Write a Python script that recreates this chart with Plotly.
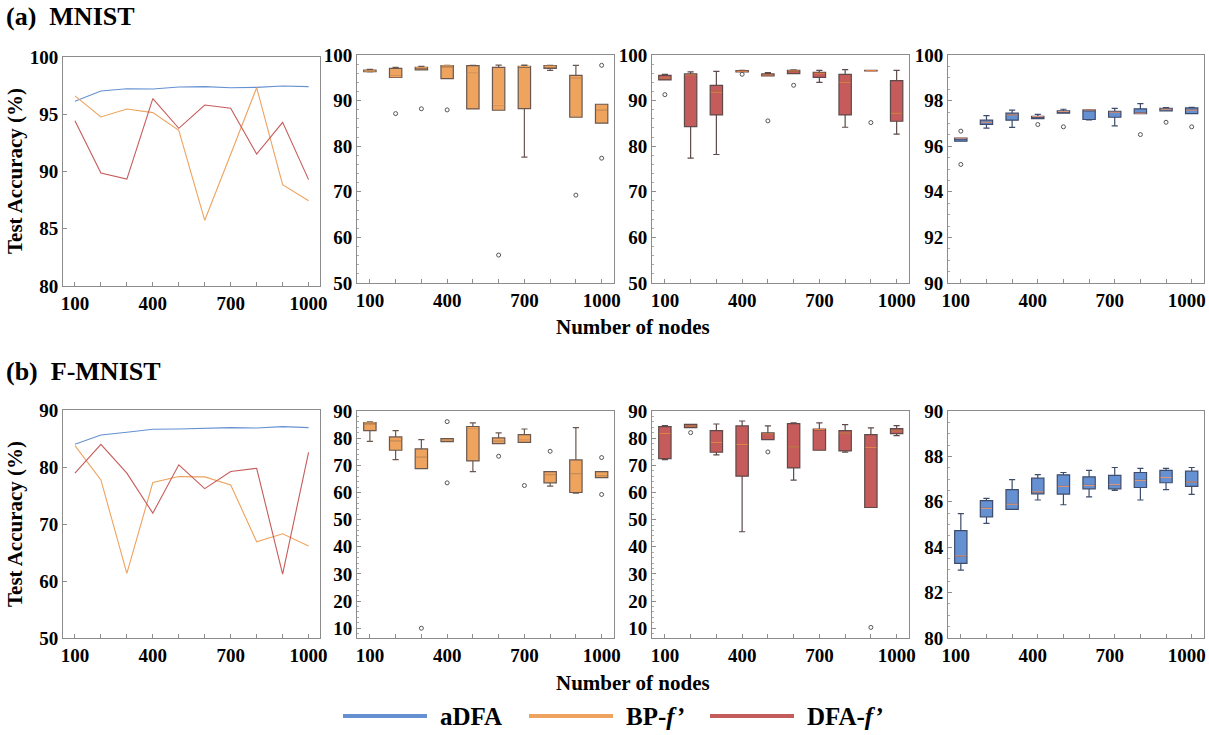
import plotly.graph_objects as go

W, H = 1209, 735

nodes = [100, 200, 300, 400, 500, 600, 700, 800, 900, 1000]
x_tick_vals = [100, 200, 300, 400, 500, 600, 700, 800, 900, 1000]
x_tick_text = ["100", "", "", "400", "", "", "700", "", "", "1000"]

# ---- (a) MNIST: line panel ----
mnist_adfa = [96.13, 97.03, 97.23, 97.20, 97.38, 97.41, 97.32, 97.35, 97.47, 97.41]
mnist_bp = [96.60, 94.76, 95.46, 95.14, 93.60, 85.74, 91.50, 97.32, 88.85, 87.45]
mnist_dfa = [94.44, 89.87, 89.34, 96.36, 93.77, 95.81, 95.52, 91.53, 94.29, 89.29]

# ---- (b) F-MNIST: line panel ----
fm_adfa = [83.99, 85.62, 86.09, 86.61, 86.67, 86.79, 86.90, 86.85, 87.08, 86.90]
fm_bp = [83.75, 77.74, 61.33, 77.27, 78.32, 78.26, 76.86, 66.88, 68.29, 66.13]
fm_dfa = [78.91, 83.99, 78.91, 71.90, 80.38, 76.20, 79.20, 79.78, 61.20, 82.58]

# ---- MNIST box stats: BP-f' ----
mn_bp_lo = [96.30, 95.10, 96.72, 94.82, 88.18, 87.88, 77.60, 96.64, 86.35, 85.04]
mn_bp_q1 = [96.35, 95.10, 96.72, 94.82, 88.18, 87.88, 88.25, 97.08, 86.35, 85.04]
mn_bp_med = [96.50, 95.26, 97.20, 97.60, 95.99, 89.12, 97.45, 97.52, 94.96, 87.96]
mn_bp_q3 = [96.70, 97.08, 97.30, 97.66, 97.66, 97.30, 97.50, 97.66, 95.55, 89.20]
mn_bp_hi = [96.86, 97.30, 97.50, 97.74, 97.74, 97.80, 97.80, 97.74, 97.74, 89.20]
mn_bp_out_x = [200, 300, 400, 600, 900, 1000, 1000]
mn_bp_out_y = [87.15, 88.20, 87.96, 56.13, 69.27, 97.74, 77.37]

# ---- MNIST box stats: DFA-f' ----
mn_dfa_lo = [94.53, 77.37, 78.18, 96.28, 95.40, 95.91, 94.00, 84.16, 96.50, 82.63]
mn_dfa_q1 = [94.53, 84.31, 86.86, 96.28, 95.40, 95.91, 95.10, 86.86, 96.50, 85.47]
mn_dfa_med = [94.96, 95.62, 91.82, 96.42, 95.62, 96.50, 95.99, 94.01, 96.57, 87.23]
mn_dfa_q3 = [95.55, 95.84, 93.36, 96.57, 95.84, 96.64, 96.20, 95.77, 96.64, 94.38]
mn_dfa_hi = [95.77, 96.28, 96.42, 96.64, 96.13, 96.72, 96.64, 96.79, 96.64, 96.64]
mn_dfa_out_x = [100, 400, 500, 600, 900]
mn_dfa_out_y = [91.31, 95.77, 85.55, 93.36, 85.18]

# ---- MNIST box stats: aDFA ----
mn_adfa_lo = [96.22, 96.79, 96.83, 97.21, 97.45, 97.15, 96.89, 97.43, 97.55, 97.43]
mn_adfa_q1 = [96.22, 96.96, 97.14, 97.21, 97.45, 97.17, 97.27, 97.43, 97.55, 97.43]
mn_adfa_med = [96.35, 97.05, 97.37, 97.30, 97.52, 97.59, 97.49, 97.45, 97.62, 97.58]
mn_adfa_q3 = [96.35, 97.14, 97.45, 97.31, 97.55, 97.59, 97.53, 97.64, 97.66, 97.68]
mn_adfa_hi = [96.35, 97.34, 97.58, 97.40, 97.62, 97.60, 97.66, 97.87, 97.69, 97.70]
mn_adfa_out_x = [100, 100, 400, 500, 800, 900, 1000]
mn_adfa_out_y = [96.66, 95.20, 96.95, 96.85, 96.51, 97.05, 96.85]

# ---- F-MNIST box stats: BP-f' ----
fm_bp_lo = [78.85, 72.11, 68.81, 78.73, 67.70, 78.00, 78.48, 62.31, 59.74, 65.50]
fm_bp_q1 = [82.77, 75.54, 68.81, 78.73, 71.62, 78.00, 78.48, 63.54, 59.98, 65.50]
fm_bp_med = [85.60, 78.97, 73.10, 79.34, 83.87, 79.00, 79.22, 66.35, 66.72, 65.99]
fm_bp_q3 = [85.71, 80.44, 76.03, 79.83, 84.24, 80.08, 81.30, 67.70, 72.00, 67.70]
fm_bp_hi = [85.96, 82.77, 79.46, 79.83, 85.59, 81.91, 83.38, 67.70, 83.87, 67.70]
fm_bp_out_x = [300, 400, 400, 600, 700, 800, 1000, 1000]
fm_bp_out_y = [10.0, 86.08, 63.54, 73.34, 62.56, 75.18, 72.85, 59.25]

# ---- F-MNIST box stats: DFA-f' ----
fm_dfa_lo = [72.10, 83.87, 73.83, 45.53, 79.46, 64.52, 75.54, 74.81, 54.47, 80.93]
fm_dfa_q1 = [72.48, 83.87, 74.81, 65.99, 79.46, 69.05, 75.54, 75.30, 54.47, 81.67]
fm_dfa_med = [81.67, 84.49, 78.36, 77.63, 81.55, 76.77, 83.20, 81.91, 76.52, 82.65]
fm_dfa_q3 = [84.24, 85.10, 82.77, 84.49, 81.91, 85.34, 83.38, 82.77, 81.30, 83.50]
fm_dfa_hi = [84.60, 85.10, 85.22, 86.32, 84.49, 85.59, 85.59, 84.98, 83.75, 84.60]
fm_dfa_out_x = [200, 500, 900]
fm_dfa_out_y = [82.04, 74.93, 10.3]

# ---- F-MNIST box stats: aDFA ----
fm_adfa_lo = [82.99, 85.05, 85.67, 86.08, 85.87, 86.22, 86.50, 86.08, 86.54, 86.33]
fm_adfa_q1 = [83.29, 85.34, 85.67, 86.35, 86.34, 86.57, 86.57, 86.63, 86.84, 86.68]
fm_adfa_med = [83.62, 85.71, 85.89, 86.44, 86.68, 86.72, 86.76, 86.94, 87.07, 86.87]
fm_adfa_q3 = [84.73, 86.05, 86.54, 87.04, 87.19, 87.10, 87.16, 87.29, 87.38, 87.35]
fm_adfa_hi = [85.48, 86.15, 86.98, 87.20, 87.29, 87.38, 87.51, 87.47, 87.47, 87.51]
fm_adfa_out_x = []
fm_adfa_out_y = []

# ---- styles ----
C_BLUE = "#6590d2"
C_ORANGE = "#eea35f"
C_RED = "#c65b5b"
FONT = "Liberation Serif"
FRAME = "#8c8c8c"
BOX_W = 48

# panel pixel boxes: (left, right, top, bottom)
panels = {
    1: (63, 320, 57, 286), 2: (357, 614, 55, 283), 3: (652, 909, 55, 283), 4: (948, 1204, 55, 283),
    5: (63, 320, 410, 638), 6: (357, 614, 411, 638), 7: (652, 909, 411, 638), 8: (948, 1204, 411, 638),
}
yranges = {1: [80, 100], 2: [50, 100], 3: [50, 100], 4: [90, 100],
           5: [50, 90], 6: [6.4, 90], 7: [6.4, 90], 8: [80, 90]}
ydticks = {1: 5, 2: 10, 3: 10, 4: 2, 5: 10, 6: 10, 7: 10, 8: 2}
yminor = {1: None, 2: 2, 3: 2, 4: 0.5, 5: None, 6: 2, 7: 2, 8: 0.5}
ytick0 = {1: 80, 2: 50, 3: 50, 4: 90, 5: 50, 6: 10, 7: 10, 8: 80}
xlabel_shift = {1: 0, 2: 0, 3: 0, 4: -5, 5: 0, 6: 0, 7: 0, 8: -5}

fig = go.Figure()


def ax(i, kind):
    return kind if i == 1 else f"{kind}{i}"


def add_line(i, y, color):
    fig.add_trace(go.Scatter(x=nodes, y=y, mode="lines", line=dict(color=color, width=1.1),
                             xaxis=ax(i, "x"), yaxis=ax(i, "y"), showlegend=False, hoverinfo="skip"))


def add_boxes(i, lo, q1, med, q3, hi, ox, oy, fill, edge, medcol):
    fig.add_trace(go.Box(x=nodes, q1=q1, median=med, q3=q3, lowerfence=lo, upperfence=hi,
                         width=BOX_W, whiskerwidth=0.5, fillcolor=fill,
                         line=dict(color=edge, width=1.2), boxpoints=False,
                         xaxis=ax(i, "x"), yaxis=ax(i, "y"), showlegend=False))
    mx, my = [], []
    for xv, mv in zip(nodes, med):
        mx += [xv - BOX_W / 2 + 2, xv + BOX_W / 2 - 2, None]
        my += [mv, mv, None]
    fig.add_trace(go.Scatter(x=mx, y=my, mode="lines", line=dict(color=medcol, width=1.2),
                             xaxis=ax(i, "x"), yaxis=ax(i, "y"), showlegend=False, hoverinfo="skip"))
    if ox:
        fig.add_trace(go.Scatter(x=ox, y=oy, mode="markers",
                                 marker=dict(symbol="circle-open", size=4, color="#555555",
                                             line=dict(width=1)),
                                 xaxis=ax(i, "x"), yaxis=ax(i, "y"), showlegend=False))


add_line(1, mnist_adfa, C_BLUE)
add_line(1, mnist_bp, C_ORANGE)
add_line(1, mnist_dfa, C_RED)
add_boxes(2, mn_bp_lo, mn_bp_q1, mn_bp_med, mn_bp_q3, mn_bp_hi, mn_bp_out_x, mn_bp_out_y,
          C_ORANGE, "#6a5850", "#f7a85c")
add_boxes(3, mn_dfa_lo, mn_dfa_q1, mn_dfa_med, mn_dfa_q3, mn_dfa_hi, mn_dfa_out_x, mn_dfa_out_y,
          C_RED, "#5e4a4a", "#e58048")
add_boxes(4, mn_adfa_lo, mn_adfa_q1, mn_adfa_med, mn_adfa_q3, mn_adfa_hi, mn_adfa_out_x, mn_adfa_out_y,
          C_BLUE, "#3e4c6c", "#d9957c")
add_line(5, fm_adfa, C_BLUE)
add_line(5, fm_bp, C_ORANGE)
add_line(5, fm_dfa, C_RED)
add_boxes(6, fm_bp_lo, fm_bp_q1, fm_bp_med, fm_bp_q3, fm_bp_hi, fm_bp_out_x, fm_bp_out_y,
          C_ORANGE, "#6a5850", "#f7a85c")
add_boxes(7, fm_dfa_lo, fm_dfa_q1, fm_dfa_med, fm_dfa_q3, fm_dfa_hi, fm_dfa_out_x, fm_dfa_out_y,
          C_RED, "#5e4a4a", "#e58048")
add_boxes(8, fm_adfa_lo, fm_adfa_q1, fm_adfa_med, fm_adfa_q3, fm_adfa_hi, fm_adfa_out_x, fm_adfa_out_y,
          C_BLUE, "#3e4c6c", "#d9957c")

tickfont = dict(family=FONT, size=19, color="black", weight="bold")
layout = {}
for i, (l, r, t, b) in panels.items():
    xr = [54, 1044] if i in (1, 5) else [50, 1048]
    xa = dict(domain=[l / W, r / W], range=xr, anchor=ax(i, "y"), automargin=False,
              tickmode="array", tickvals=x_tick_vals, ticktext=x_tick_text,
              ticklabeloverflow="allow", ticklabelshift=xlabel_shift[i],
              ticks="inside", ticklen=4, tickcolor=FRAME, tickfont=tickfont,
              showline=True, linecolor=FRAME, linewidth=1, mirror=True,
              showgrid=False, zeroline=False, fixedrange=True)
    ya = dict(domain=[1 - b / H, 1 - t / H], range=yranges[i], anchor=ax(i, "x"), automargin=False,
              tick0=ytick0[i], dtick=ydticks[i], ticks="inside", ticklen=4, tickcolor=FRAME,
              ticklabeloverflow="allow",
              tickfont=tickfont, showline=True, linecolor=FRAME, linewidth=1, mirror=True,
              showgrid=False, zeroline=False, fixedrange=True)
    if yminor[i]:
        ya["minor"] = dict(dtick=yminor[i], ticks="inside", ticklen=2, tickcolor="#aaaaaa")
    layout["xaxis" if i == 1 else f"xaxis{i}"] = xa
    layout["yaxis" if i == 1 else f"yaxis{i}"] = ya

annotations = []


def ann(text, px, py, size, xanchor="center", yanchor="middle", angle=0):
    annotations.append(dict(text=text, x=px / W, y=1 - py / H, xref="paper", yref="paper",
                            xanchor=xanchor, yanchor=yanchor, showarrow=False, textangle=angle,
                            font=dict(family=FONT, size=size, color="black", weight="bold")))


ann("(a)\u00a0\u00a0MNIST", 4, 16, 26, xanchor="left")
ann("(b)\u00a0\u00a0F-MNIST", 4, 371, 26, xanchor="left")
ann("Test Accuracy (%)", 15, 171, 21, angle=-90)
ann("Test Accuracy (%)", 15, 524, 21, angle=-90)
ann("Number of nodes", 633, 327, 21)
ann("Number of nodes", 633, 683, 21)

# legend (drawn manually to match long line samples)
legend_names = ["aDFA", "BP-<i>f’</i>", "DFA-<i>f’</i>"]
legend_colors = [C_BLUE, C_ORANGE, C_RED]
legend_x = [343, 529, 710]
shapes = []
for name, col, lx in zip(legend_names, legend_colors, legend_x):
    shapes.append(dict(type="line", xref="paper", yref="paper", x0=lx / W, x1=(lx + 84) / W,
                       y0=1 - 716 / H, y1=1 - 716 / H, line=dict(color=col, width=4)))
    ann(name, lx + 95, 716, 25, xanchor="left")

fig.update_layout(**layout)
fig.update_layout(width=W, height=H, margin=dict(l=0, r=0, t=0, b=0, autoexpand=False),
                  paper_bgcolor="white", plot_bgcolor="white", showlegend=False,
                  annotations=annotations, shapes=shapes, boxmode="overlay")

page_js = (
    "document.documentElement.style.margin='0';document.documentElement.style.overflow='hidden';"
    "document.body.style.margin='0';document.body.style.padding='0';document.body.style.overflow='hidden';"
)
fig.write_html("out.html", config={"displayModeBar": False}, post_script=page_js)
